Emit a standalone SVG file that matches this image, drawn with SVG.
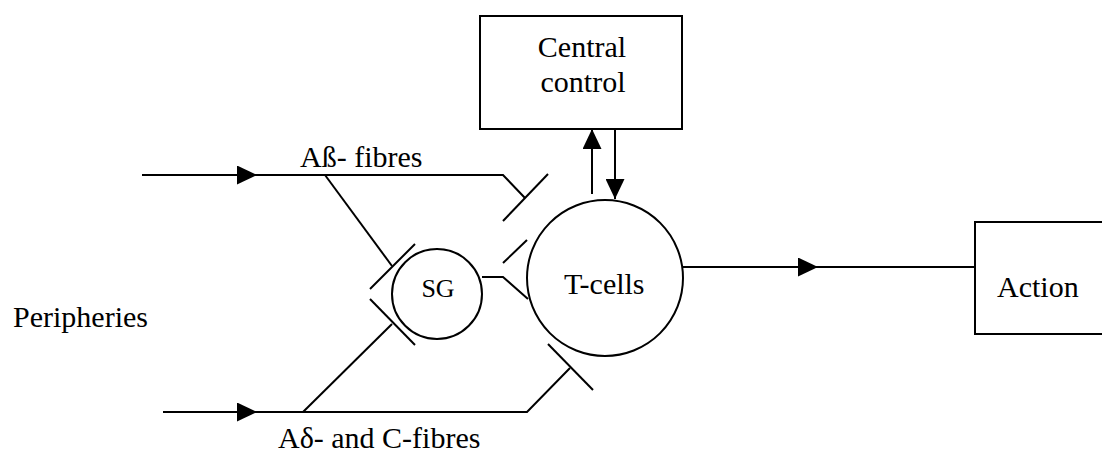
<svg xmlns="http://www.w3.org/2000/svg" width="1102" height="453" viewBox="0 0 1102 453">
  <style>
    .ln { fill: none; stroke: #000; stroke-width: 2; }
    .shape { fill: #fff; stroke: #000; stroke-width: 2; }
    .t { font-family: "Liberation Serif", "Times New Roman", serif; font-size: 30px; fill: #000; }
  </style>
  <defs>
    <marker id="arr" markerUnits="userSpaceOnUse" markerWidth="20" markerHeight="19" viewBox="0 0 20 19" refX="20" refY="9.5" orient="auto">
      <path d="M0,0 L20,9.5 L0,19 z" fill="#000"/>
    </marker>
  </defs>
  <rect width="1102" height="453" fill="#fff"/>

  <g id="connectors">
    <!-- A-beta fibres -->
    <path class="ln" d="M142,175 L257,175" marker-end="url(#arr)"/>
    <path class="ln" d="M255,175 L503,175 L525,198"/>
    <path class="ln" d="M325,175 L392,266"/>
    <!-- A-delta and C fibres -->
    <path class="ln" d="M163,412 L257,412" marker-end="url(#arr)"/>
    <path class="ln" d="M255,412 L527,412 L570,368"/>
    <path class="ln" d="M303,412 L392,324"/>
    <!-- synapse bars -->
    <path class="ln" d="M503,221 L548,174"/>
    <path class="ln" d="M370,289 L415,244"/>
    <path class="ln" d="M370,299 L415,345"/>
    <path class="ln" d="M503,263 L527,240"/>
    <path class="ln" d="M548,344 L593,390"/>
    <!-- SG to T-cells -->
    <path class="ln" d="M482,277 L503,277 L528,299"/>
    <!-- T-cells <-> Central control -->
    <path class="ln" d="M592,194 L592,129" marker-end="url(#arr)"/>
    <path class="ln" d="M615,129 L615,199" marker-end="url(#arr)"/>
    <!-- T-cells to Action -->
    <path class="ln" d="M683,267 L818,267" marker-end="url(#arr)"/>
    <path class="ln" d="M816,267 L975,267"/>
  </g>

  <g id="central-control">
    <rect class="shape" x="480" y="16" width="202" height="113"/>
    <text class="t" x="582" y="57" text-anchor="middle">Central</text>
    <text class="t" x="583" y="92" text-anchor="middle">control</text>
  </g>

  <g id="sg">
    <circle class="shape" cx="437" cy="294" r="45"/>
    <text class="t" x="438" y="297" text-anchor="middle" style="font-size:26px">SG</text>
  </g>

  <g id="t-cells">
    <circle class="shape" cx="605" cy="278" r="78"/>
    <text class="t" x="564" y="294">T-cells</text>
  </g>

  <g id="action">
    <rect class="shape" x="975" y="222" width="140" height="112"/>
    <text class="t" x="997" y="297">Action</text>
  </g>

  <g id="labels">
    <text class="t" x="13" y="327">Peripheries</text>
    <text class="t" x="300" y="167">Aß- fibres</text>
    <text class="t" x="278" y="448">Aδ- and C-fibres</text>
  </g>
</svg>
